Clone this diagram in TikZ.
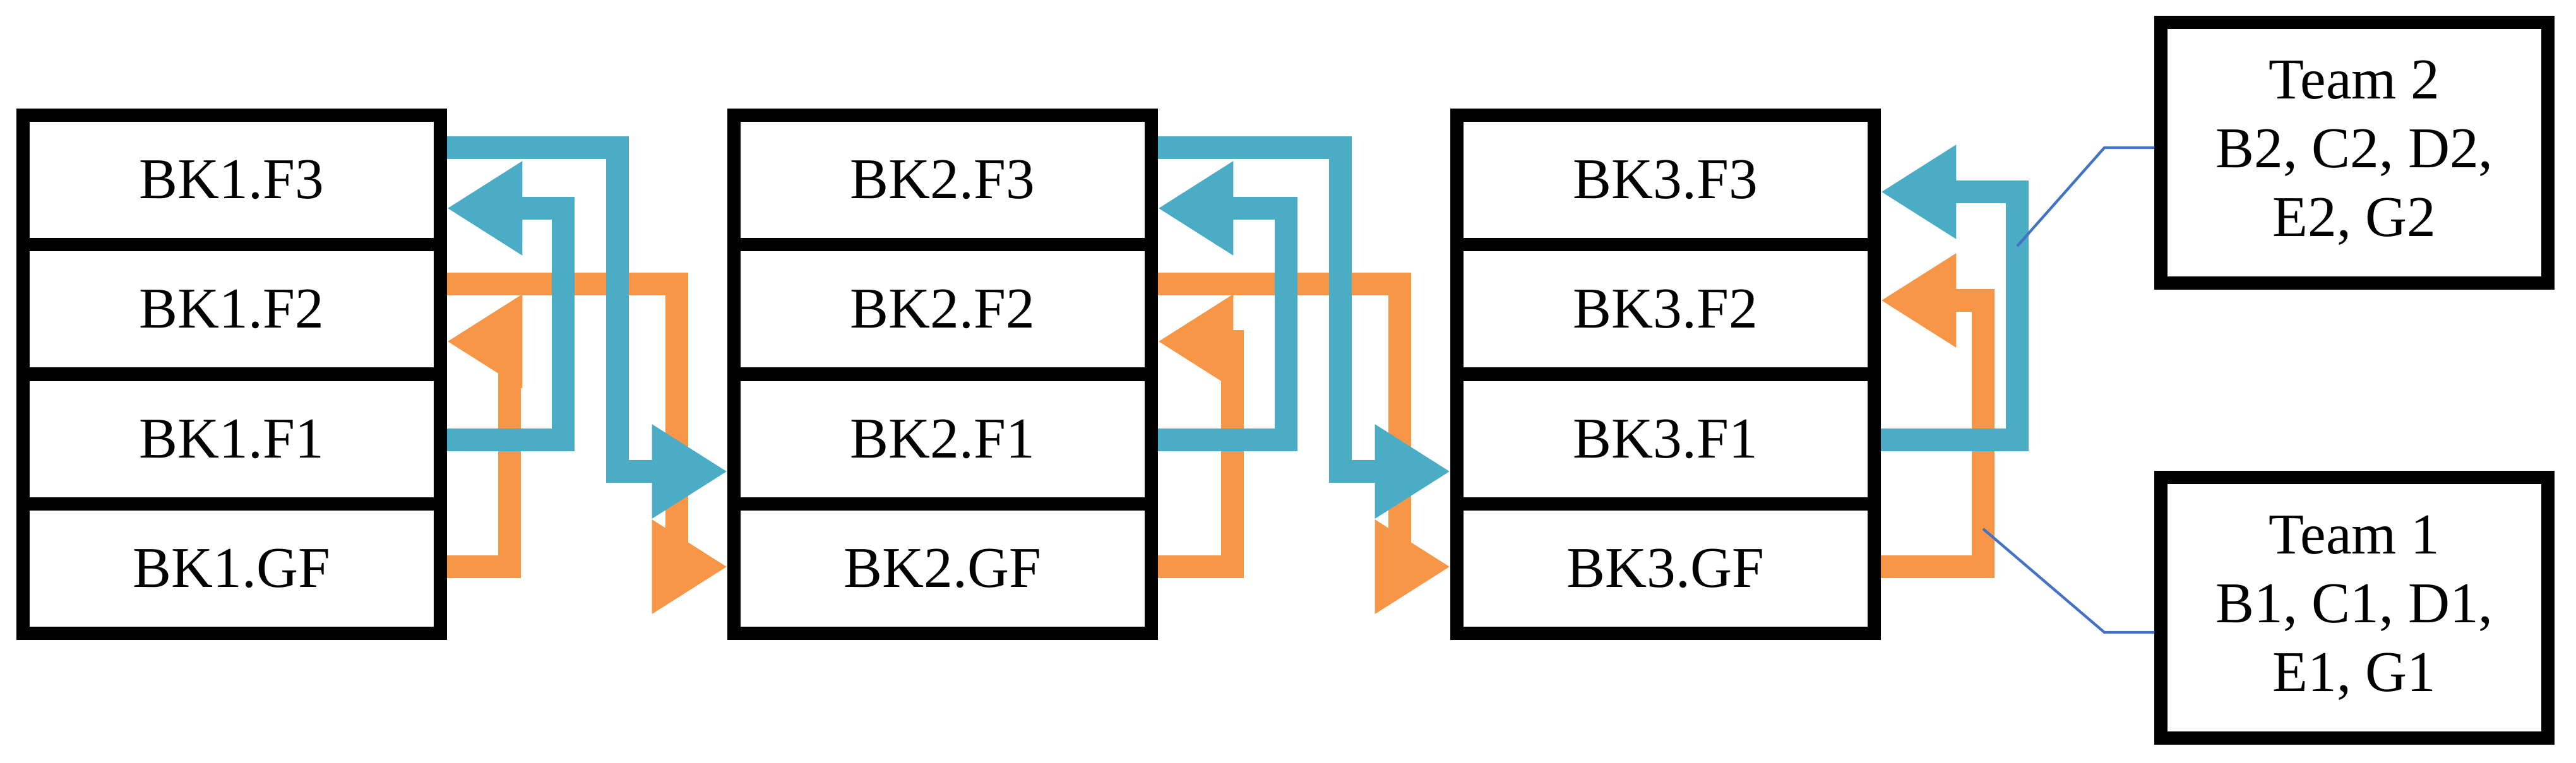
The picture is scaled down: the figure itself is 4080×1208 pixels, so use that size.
\documentclass[tikz,border=0pt]{standalone}
\usepackage{fontspec}
\setmainfont{Liberation Serif}
\usetikzlibrary{arrows.meta,calc}
\definecolor{cblue}{HTML}{4BACC6}
\definecolor{corange}{HTML}{F79646}
\definecolor{cline}{HTML}{4472C4}
\begin{document}
\begin{tikzpicture}[x=0.01cm,y=-0.01cm,
  row/.style={draw=black,line width=6pt,minimum width=6.6cm,minimum height=2.055cm,inner sep=0pt,font=\fontsize{26}{31}\selectfont},
  team/.style={draw=black,line width=6pt,minimum width=6.12cm,minimum height=4.12cm,inner sep=0pt,align=center,font=\fontsize{26}{31}\selectfont},
  flow/.style={line width=10.5pt,line join=miter,-{Triangle[length=34pt,width=40pt]}},
  bl/.style={flow,draw=cblue},
  or/.style={flow,draw=corange},
  call/.style={draw=cline,line width=1.2pt}]
\useasboundingbox (0,0) rectangle (4080,1208);
% blocks
\foreach \b/\x in {1/367,2/1493,3/2638}{
  \node[row] (b\b f3) at (\x,285) {BK\b.F3};
  \node[row] (b\b f2) at (\x,490) {BK\b.F2};
  \node[row] (b\b f1) at (\x,696) {BK\b.F1};
  \node[row] (b\b gf) at (\x,901) {BK\b.GF};
}
\node[team] (t2) at (3729,242) {Team 2\\B2, C2, D2,\\E2, G2};
\node[team] (t1) at (3729,963) {Team 1\\B1, C1, D1,\\E1, G1};
% block1 -> block2 and block2 -> block3
\foreach \a/\c/\o in {1/2/0,2/3/1145}{
  \draw[or] (b\a f2.east |- 0,450) -- (1072+\o,450) -- (1072+\o,898) -- (b\c gf.west |- 0,898);
  \draw[bl] (b\a f3.east |- 0,234) -- (978+\o,234) -- (978+\o,747) -- (b\c f1.west |- 0,747);
  \draw[or] (b\a gf.east |- 0,898) -- (807+\o,898) -- (807+\o,541) -- (b\a f2.east |- 0,541);
  \draw[bl] (b\a f1.east |- 0,697) -- (892+\o,697) -- (892+\o,330) -- (b\a f3.east |- 0,330);
}
% block3 returns
\draw[or] (b3gf.east |- 0,898) -- (3141,898) -- (3141,476) -- (b3f2.east |- 0,476);
\draw[bl] (b3f1.east |- 0,697) -- (3195,697) -- (3195,304) -- (b3f3.east |- 0,304);
% callouts
\coordinate (c2) at (3195,390);
\coordinate (c1) at (3141,838);
\draw[call] (t2.west |- 0,234) -- (3333,234) -- (c2);
\draw[call] (t1.west |- 0,1002) -- (3333,1002) -- (c1);
\end{tikzpicture}
\end{document}
